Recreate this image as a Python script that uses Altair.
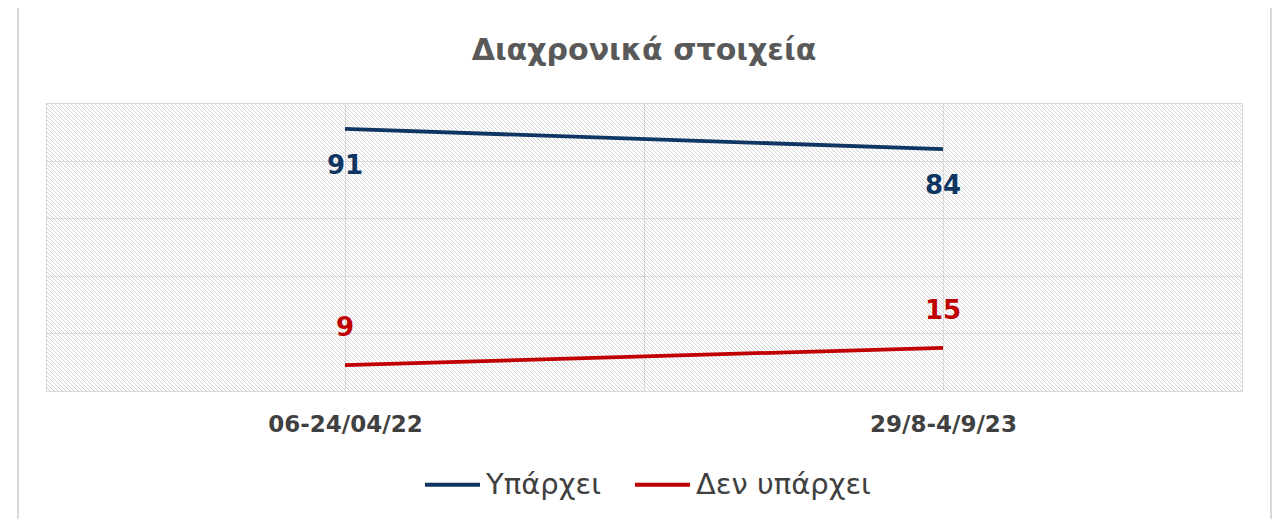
import altair as alt
import pandas as pd

# ---- data ----
categories = ["06-24/04/22", "29/8-4/9/23"]
series_names = ["Υπάρχει", "Δεν υπάρχει"]
yparxei = [91, 84]
den_yparxei = [9, 15]
colors = ["#0f3562", "#c00000"]

W, H = 1196, 288
FONT = "DejaVu Sans"

rows = []
for i, c in enumerate(categories):
    pos = 2 * i + 1
    rows.append({"cat": c, "pos": pos, "series": series_names[0], "value": yparxei[i]})
    rows.append({"cat": c, "pos": pos, "series": series_names[1], "value": den_yparxei[i]})
df = pd.DataFrame(rows)

label_expr = " : ".join(
    [f"datum.value == {2*i+1} ? '{c}'" for i, c in enumerate(categories)]
) + " : ''"

x_enc = alt.X(
    "pos:Q",
    scale=alt.Scale(domain=[0, 2 * len(categories)], nice=False, zero=False),
    axis=alt.Axis(
        values=list(range(0, 2 * len(categories) + 1)),
        labelExpr=label_expr,
        title=None,
        ticks=False,
        domain=False,
        grid=True,
        gridColor="#d9d9d9",
        labelFontSize=23,
        labelFont=FONT,
        labelFontWeight="bold",
        labelColor="#404040",
        labelPadding=22,
    ),
)
y_enc = alt.Y(
    "value:Q",
    scale=alt.Scale(domain=[0, 100], nice=False),
    axis=alt.Axis(
        values=[0, 20, 40, 60, 80, 100],
        labels=False,
        ticks=False,
        domain=False,
        grid=True,
        gridColor="#d9d9d9",
        title=None,
    ),
)
color_enc = alt.Color(
    "series:N",
    scale=alt.Scale(domain=series_names, range=colors),
    sort=series_names,
    legend=alt.Legend(
        title=None,
        orient="none",
        direction="horizontal",
        legendX=377,
        legendY=352,
        symbolType="stroke",
        symbolSize=3025,
        symbolStrokeWidth=3.8,
        labelFontSize=29,
        labelFont=FONT,
        labelColor="#404040",
        labelOffset=4,
        labelLimit=400,
        columnPadding=26,
    ),
)

# decorative diagonal hatch of the plot area
hatch = (
    alt.Chart(alt.sequence(start=-H - 8, stop=W + 8, step=4, as_="h"))
    .transform_calculate(h2=f"datum.h + {H}")
    .mark_rule(clip=True, color="#d4d4d4", strokeWidth=1)
    .encode(
        x=alt.X("h:Q", scale=None, axis=None),
        x2="h2:Q",
        y=alt.value(0),
        y2=alt.value(H),
    )
)

# outer chart frame (left and right edges)
frame_l = alt.Chart().mark_rule(color="#d9d9d9", strokeWidth=2).encode(
    x=alt.value(-28), y=alt.value(-96), y2=alt.value(H + 130)
)
frame_r = alt.Chart().mark_rule(color="#d9d9d9", strokeWidth=2).encode(
    x=alt.value(1225), y=alt.value(-96), y2=alt.value(H + 130)
)

base = alt.Chart(df)
lines = base.mark_line(strokeWidth=3.8).encode(x=x_enc, y=y_enc, color=color_enc)

lbl_color = alt.Color(
    "series:N", scale=alt.Scale(domain=series_names, range=colors), legend=None
)
lbl_top = (
    base.transform_filter(alt.datum.series == series_names[0])
    .mark_text(dy=37, fontSize=26, font=FONT, fontWeight="bold", baseline="middle")
    .encode(x="pos:Q", y="value:Q", text="value:Q", color=lbl_color)
)
lbl_bot = (
    base.transform_filter(alt.datum.series == series_names[1])
    .mark_text(dy=-37, fontSize=26, font=FONT, fontWeight="bold", baseline="middle")
    .encode(x="pos:Q", y="value:Q", text="value:Q", color=lbl_color)
)

main = alt.layer(lines, lbl_top, lbl_bot)

chart = (
    alt.layer(hatch, frame_l, frame_r, main)
    .resolve_scale(x="independent")
    .properties(
        width=W,
        height=H,
        autosize="none",
        padding={"left": 38, "top": 95, "right": 30, "bottom": 128},
        title=alt.TitleParams(
            "Διαχρονικά στοιχεία",
            fontSize=30,
            font=FONT,
            fontWeight="bold",
            color="#595959",
            anchor="middle",
            offset=37,
            dy=97,
        ),
    )
    .configure_view(stroke="#d9d9d9", strokeWidth=1.5)
    .configure(background="white")
)

chart.save("out.html", embed_options={"renderer": "svg", "actions": False})
